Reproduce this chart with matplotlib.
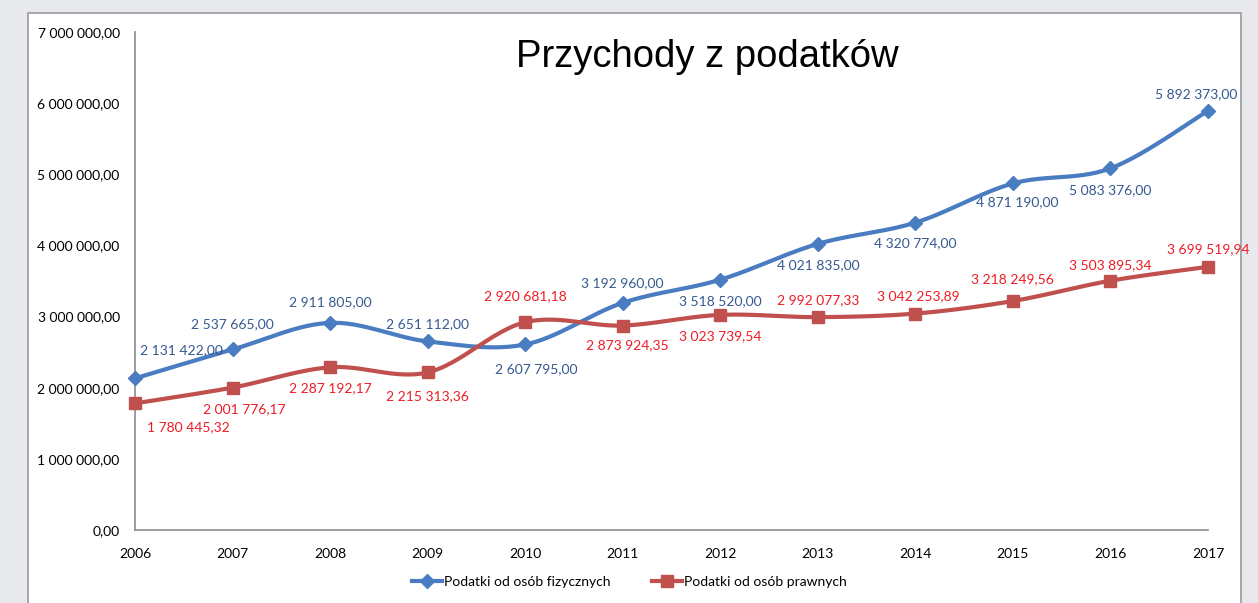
import numpy as np
import matplotlib
matplotlib.use("Agg")
import matplotlib.pyplot as plt
from matplotlib.patches import Rectangle
from matplotlib.ticker import FuncFormatter

years = [2006, 2007, 2008, 2009, 2010, 2011, 2012, 2013, 2014, 2015, 2016, 2017]
fizyczne = [2131422.00, 2537665.00, 2911805.00, 2651112.00, 2607795.00, 3192960.00,
            3518520.00, 4021835.00, 4320774.00, 4871190.00, 5083376.00, 5892373.00]
prawne = [1780445.32, 2001776.17, 2287192.17, 2215313.36, 2920681.18, 2873924.35,
          3023739.54, 2992077.33, 3042253.89, 3218249.56, 3503895.34, 3699519.94]
series_names = ["Podatki od osób fizycznych", "Podatki od osób prawnych"]
title = "Przychody z podatków"

# label offsets in pixels (dx, dy), placed like in the source chart
blue_off = [(46, 28), (0, 25), (0, 21), (0, 17), (11, -25), (0, 20),
            (0, -21), (0, -21), (0, -21), (4, -19), (0, -22), (-12, 17)]
red_off = [(53, -24), (12, -22), (0, -21), (0, -24), (0, 26), (5, -20),
           (0, -21), (0, 17), (3, 17), (0, 22), (0, 16), (0, 18)]

BLUE = "#4a7cc1"
BLUE_TXT = "#35598f"
RED = "#c0504d"
RED_TXT = "#ee1c25"
FONT = "Lato"


def fmt_pl(v, _=None):
    s = f"{v:,.2f}"
    return s.replace(",", " ").replace(".", ",")


def smooth(xs, ys, n=30):
    # bezier smoothing like the spreadsheet "smoothed line"
    x = np.asarray(xs, float)
    y = np.asarray(ys, float)
    px = np.concatenate([[x[0]], x, [x[-1]]])
    py = np.concatenate([[y[0]], y, [y[-1]]])
    out_x, out_y = [], []
    t = np.linspace(0, 1, n)
    for i in range(len(x) - 1):
        p0 = np.array([px[i + 1], py[i + 1]])
        p3 = np.array([px[i + 2], py[i + 2]])
        c1 = p0 + (np.array([px[i + 2], py[i + 2]]) - np.array([px[i], py[i]])) / 6
        c2 = p3 - (np.array([px[i + 3], py[i + 3]]) - np.array([px[i + 1], py[i + 1]])) / 6
        b = ((1 - t) ** 3)[:, None] * p0 + (3 * (1 - t) ** 2 * t)[:, None] * c1 \
            + (3 * (1 - t) * t ** 2)[:, None] * c2 + (t ** 3)[:, None] * p3
        out_x.extend(b[:, 0])
        out_y.extend(b[:, 1])
    return out_x, out_y


fig = plt.figure(figsize=(12.58, 6.03), dpi=100)
fig.patch.set_facecolor("#e8e9ec")
fig.add_artist(Rectangle((28 / 1258, -0.01), (1241 - 28) / 1258, 1 - 13 / 603 + 0.01,
                         transform=fig.transFigure, facecolor="white",
                         edgecolor="#9a9a9a", linewidth=1.2, zorder=0))

ax = fig.add_axes([135 / 1258, 1 - 530 / 603, (1208 - 135) / 1258, (530 - 32) / 603])
ax.set_facecolor("none")
ax.set_xlim(years[0], years[-1])
ax.set_ylim(0, 7000000)
ax.set_yticks(np.arange(0, 7000001, 1000000))
ax.set_xticks(years)
ax.yaxis.set_major_formatter(FuncFormatter(fmt_pl))
ax.tick_params(axis="y", length=0, labelsize=10, pad=11)
ax.tick_params(axis="x", length=0, labelsize=10, pad=13)
for lab in ax.get_xticklabels() + ax.get_yticklabels():
    lab.set_fontfamily(FONT)
for side in ["top", "right"]:
    ax.spines[side].set_visible(False)
for side in ["left", "bottom"]:
    ax.spines[side].set_color("#8c8c8c")
    ax.spines[side].set_linewidth(1.2)

bx, by = smooth(years, fizyczne)
rx, ry = smooth(years, prawne)
ax.plot(bx, by, color=BLUE, lw=3, clip_on=False, zorder=3)
ax.plot(rx, ry, color=RED, lw=3, clip_on=False, zorder=3)
ax.plot(years, fizyczne, ls="none", marker="D", ms=7, color=BLUE, clip_on=False, zorder=4)
ax.plot(years, prawne, ls="none", marker="s", ms=9, color=RED, clip_on=False, zorder=4)

ax.plot([], [], color=BLUE, lw=3, marker="D", ms=7, label=series_names[0])
ax.plot([], [], color=RED, lw=3, marker="s", ms=9, label=series_names[1])

for x, y, (dx, dy) in zip(years, fizyczne, blue_off):
    ax.annotate(fmt_pl(y), (x, y), xytext=(dx, dy), textcoords="offset pixels",
                ha="center", va="center", fontsize=10, color=BLUE_TXT, family=FONT, zorder=5)
for x, y, (dx, dy) in zip(years, prawne, red_off):
    ax.annotate(fmt_pl(y), (x, y), xytext=(dx, dy), textcoords="offset pixels",
                ha="center", va="center", fontsize=10, color=RED_TXT, family=FONT, zorder=5)

fig.text(707 / 1258, 1 - 57 / 603, title, ha="center", va="center", fontsize=27.5,
         family="Liberation Sans", color="black")

fig.legend(loc="center", bbox_to_anchor=(0.5, 1 - 582 / 603), ncol=2, frameon=False,
           prop={"family": FONT, "size": 10}, handlelength=2.2, handletextpad=0.1,
           columnspacing=3)

fig.savefig("out.png", dpi=100, facecolor=fig.get_facecolor())
